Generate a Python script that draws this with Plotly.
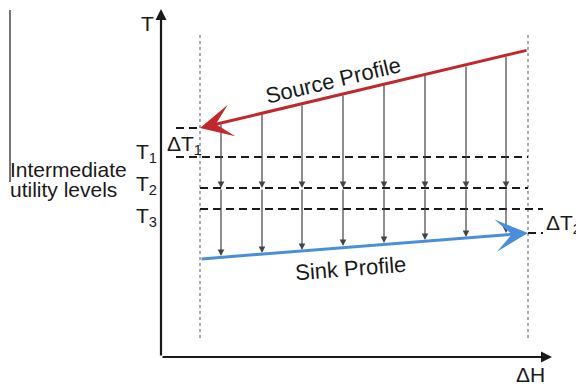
import plotly.graph_objects as go

# ---- schematic data (H = enthalpy axis units, T = temperature axis units) ----
H_bounds = [39, 367]                 # left / right vertical dashed bounds
bound_T = [19, 322]                  # vertical extent of dashed bounds
source_T = [229, 307]                # source profile T at H_bounds
sink_T = [98, 124]                   # sink profile T at H_bounds
T_levels = [200, 169, 148]           # T1, T2, T3
T_level_labels = ["T<sub>1</sub>", "T<sub>2</sub>", "T<sub>3</sub>"]
T_level_start = [15, 39, 39]
T_level_end = [367, 367, 382]
transfer_H = [60, 101, 141, 182, 223, 264, 305, 345]
transfer_top = [234, 244, 253, 263, 273, 283, 292, 302]
transfer_bottom = [101, 104, 107, 111, 114, 117, 120, 124]
dT1_dash = ([15, 39], 229)
dT2_dash = ([367, 382], 124)
axis_max = (391, 348)

FONT = "Liberation Sans, Arial, sans-serif"
INK = "#1a1a1a"
RED = "#c1272d"
BLUE = "#4a8fdc"
GRAY = "#555555"
ARROW_GRAY = "#444444"

fig = go.Figure()

def line(x, y, color, width, dash="solid"):
    fig.add_trace(go.Scatter(x=x, y=y, mode="lines", hoverinfo="skip",
                             line=dict(color=color, width=width, dash=dash)))

# vertical dashed bounds
for h in H_bounds:
    line([h, h], bound_T, GRAY, 1, "3px,3px")

# utility level dashed lines
for t, a, b in zip(T_levels, T_level_start, T_level_end):
    line([a, b], [t, t], INK, 1.8, "8px,5px")

# delta-T dashes
line(dT1_dash[0], [dT1_dash[1]] * 2, INK, 1.8, "8px,5px")
line(dT2_dash[0], [dT2_dash[1]] * 2, INK, 1.8, "8px,5px")

# left gray bar
line([-151, -151], [175, 347], "#777777", 2)

ann = []

def arrow(x0, y0, x1, y1, color, width, head, size):
    ann.append(dict(x=x1, y=y1, ax=x0, ay=y0, xref="x", yref="y", axref="x", ayref="y",
                    text="", showarrow=True, arrowhead=head, arrowsize=size,
                    arrowwidth=width, arrowcolor=color))

# heat transfer arrows
for h, t0, t1 in zip(transfer_H, transfer_top, transfer_bottom):
    arrow(h, t0, h, T_levels[1], ARROW_GRAY, 1.2, 2, 1.1)
    arrow(h, T_levels[1], h, t1, ARROW_GRAY, 1.2, 2, 1.1)

# profiles
arrow(H_bounds[1], source_T[1], H_bounds[0], source_T[0], RED, 3, 3, 1.8)
arrow(H_bounds[0], sink_T[0], H_bounds[1], sink_T[1], BLUE, 3, 3, 1.8)

# axes
arrow(0, 0, 0, axis_max[1], INK, 2.2, 2, 1.0)
arrow(0, 0, axis_max[0], 0, INK, 2.2, 2, 1.0)

def text(x, y, s, angle=0, xanchor="center", size=22):
    ann.append(dict(x=x, y=y, xref="x", yref="y", text=s, showarrow=False,
                    textangle=angle, xanchor=xanchor, yanchor="middle",
                    font=dict(family=FONT, size=size, color=INK)))

text(-14, 334, "T", size=21)
text(369, -17, "ΔH", size=21)
text(-153, 188, "Intermediate", xanchor="left", size=21)
text(-153, 168, "utility levels", xanchor="left", size=21)
for t, lab in zip([204, 172, 140], T_level_labels):
    text(-27, t, lab, xanchor="left", size=21)
text(172, 277, "Source Profile", angle=-13.4)
text(189, 89, "Sink Profile", angle=-4.5)
text(4, 212, "ΔT<sub>1</sub>", xanchor="left", size=21)
text(383, 133, "ΔT<sub>2</sub>", xanchor="left", size=21)

fig.update_layout(
    width=576, height=384, margin=dict(l=0, r=0, t=0, b=0),
    paper_bgcolor="white", plot_bgcolor="white", showlegend=False,
    xaxis=dict(range=[-161, 415], visible=False, fixedrange=True),
    yaxis=dict(range=[-27, 357], visible=False, fixedrange=True),
    annotations=ann,
)
fig.write_html("out.html", config={"displayModeBar": False})
